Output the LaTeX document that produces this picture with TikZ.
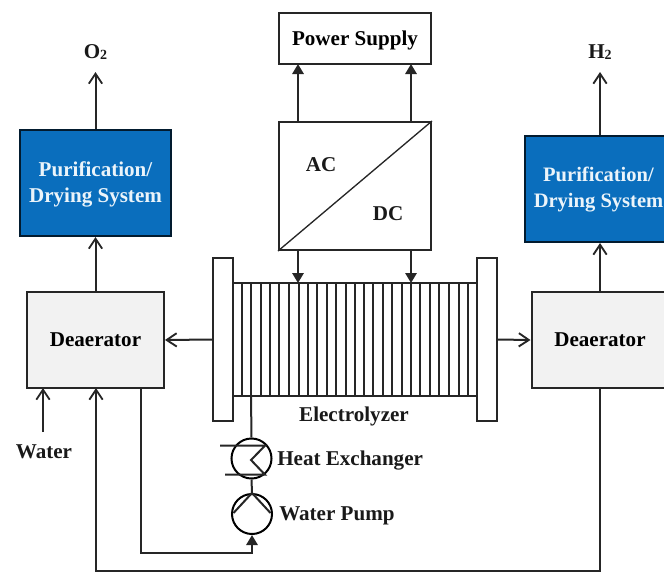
\documentclass[tikz,border=0pt]{standalone}
\usepackage{fontspec}
\setmainfont{Liberation Serif}
\usetikzlibrary{arrows.meta,calc}
\newcommand{\subtwo}{{\fontsize{10.5}{10.5}\selectfont\raisebox{-0.6pt}{2}}}
\tikzset{
  x=0.75pt, y=-0.75pt,
  wire/.style={line width=1.5pt, draw=black!85},
  thin wire/.style={line width=1.3pt, draw=black!85},
  open/.style={wire, -{Straight Barb[length=7.5pt,width=10pt,line width=1.4pt]}},
  solid tip/.style={wire, -{Triangle[length=7.5pt,width=8.5pt]}},
  box/.style={draw=black!85, line width=1.5pt, inner sep=0pt, align=center, text height=12pt, text depth=2pt, font=\bfseries\fontsize{15.8}{19.5}\selectfont},
  blue box/.style={box, fill=blue0, draw=black!75!blue0, minimum width=113pt, minimum height=79.5pt},
  grey box/.style={box, fill=black!5, minimum width=102.75pt, minimum height=72pt},
  plate/.style={box, fill=white, minimum width=15pt, minimum height=122.25pt},
  round/.style={circle, draw=black, line width=1.5pt, fill=white, minimum size=30pt, inner sep=0pt},
  lbl/.style={inner sep=0pt, font=\bfseries\fontsize{15.8}{18}\selectfont, text=black!90},
  blue text/.style={inner sep=0pt, align=center, text=white!92!blue0},
}
\definecolor{blue0}{HTML}{0A6EBD}
\begin{document}
\begin{tikzpicture}
\useasboundingbox (0,0) rectangle (664,572);
\clip (0,0) rectangle (664,572);
% boxes
\node[box, minimum width=114pt, minimum height=38.25pt] (ps) at (355,38.5) {Power Supply};
\node[box, minimum width=114pt, minimum height=96pt] (conv) at (355,186) {};
\draw[thin wire, line width=1pt] (conv.south west) -- (conv.north east);
\node[lbl] (ac) at (321,165) {AC};
\node[lbl] (dc) at (388,214) {DC};
\node[blue box] (pl) at (95.5,183) {};
\node[blue text, font=\bfseries\fontsize{15.8}{19.5}\selectfont] (plt) at (95.5,184) {Purification/\\Drying System};
\node[blue box] (pr) at (600,189) {};
\node[blue text, font=\bfseries\fontsize{15.4}{19.5}\selectfont] (prt) at (598.5,190) {Purification/\\Drying System};
\node[grey box] (dl) at (95.5,340) {Deaerator};
\node[grey box] (dr) at (600,340) {Deaerator};
\node[lbl] (o2) at (95.5,52) {O\subtwo};
\node[lbl] (h2) at (600,52) {H\subtwo};
% electrolyzer
\node[draw=black!85, line width=1.5pt, minimum width=183pt, minimum height=84.75pt, inner sep=0pt] (stack) at (355,339.5) {};
\foreach \px in {241.7,251,260.7,270,279,289,298.7,307.7,317.3,326.7,335.7,345.7,355,363.7,373.3,383,392,402,411.3,420.3,430.3,439.3,448.7,459,467.7}{
  \draw[line width=1.3pt, draw=black!85] (\px,283) -- (\px,396);
}
\node[plate] (pa) at (223,339.5) {};
\node[plate] (pb) at (487,339.5) {};
\node[lbl] (el) at (354,416) {Electrolyzer};
% coordinates
\coordinate (psa) at (298,64); \coordinate (psb) at (411,64);
\coordinate (cta) at (298,122); \coordinate (ctb) at (411,122);
\coordinate (cba) at (298,250); \coordinate (cbb) at (411,250);
\coordinate (sta) at (298,283); \coordinate (stb) at (411,283);
\coordinate (o2t) at (95.5,72); \coordinate (h2t) at (600,72);
\coordinate (hxin) at (251,396);
\coordinate (wstart) at (43,432); \coordinate (wend) at (43,388);
\coordinate (rin) at (96,388);
\coordinate (outl) at (141,388);
% heat exchanger and pump
\node[round] (hx) at (251.5,458.5) {};
\node[round] (pump) at (252,514) {};
\draw[wire] (220,445.7) -- (265,445.7) -- (251,460) -- (265,474.7) -- (225,474.7);
\draw[wire] (233.5,513) -- (pump.north) -- (270.5,513);
\node[lbl, anchor=west] (hxl) at (277,461) {Heat Exchanger};
\node[lbl, anchor=west] (pul) at (279,516) {Water Pump};
\node[lbl] (wl) at (44,452) {Water};
% connectors
\draw[solid tip] (cta) -- (psa);
\draw[solid tip] (ctb) -- (psb);
\draw[solid tip] (cba) -- (sta);
\draw[solid tip] (cbb) -- (stb);
\draw[open] (pl.north) -- (o2t);
\draw[open] (pr.north) -- (h2t);
\draw[open] (dl.north) -- (pl.south);
\draw[open] (dr.north) -- (pr.south);
\draw[open] (pa.west) -- (dl.east);
\draw[open] (pb.east) -- (dr.west);
\draw[wire] (hxin) -- (hx.north);
\draw[wire] (hx.south) -- (pump.north);
\draw[open] (wstart) -- (wend);
\draw[solid tip] (outl) -- (141,552.7) -- (252,552.7) -- (pump.south);
\draw[open, line width=1.2pt] (dr.south) -- (600,571) -- (96,571) -- (rin);
\end{tikzpicture}
\end{document}
